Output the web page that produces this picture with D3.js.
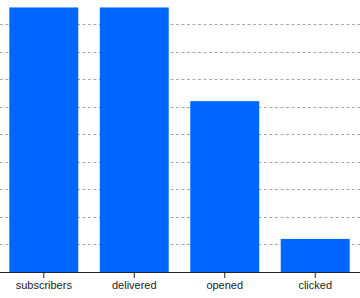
<!DOCTYPE html>
<html>
<head>
<meta charset="utf-8">
<script src="https://cdn.jsdelivr.net/npm/d3@7"></script>
<style>
  html, body { margin: 0; padding: 0; background: #fff; }
  svg { display: block; }
</style>
</head>
<body>
<svg id="chart" width="360" height="298"></svg>
<script>
const categories = ["subscribers", "delivered", "opened", "clicked"];
const values = [9600, 9600, 6200, 1200];
const gridTicks = [1000, 2000, 3000, 4000, 5000, 6000, 7000, 8000, 9000];

const width = 360, height = 298;
const baseline = 272;
const svg = d3.select("#chart");

const x = d3.scaleBand()
  .domain(categories)
  .range([0, 359])
  .paddingInner(0.238)
  .paddingOuter(0.103);

const y = d3.scaleLinear()
  .domain([0, 9870])
  .range([baseline, 0]);

// gridlines
svg.append("g")
  .selectAll("line")
  .data(gridTicks)
  .join("line")
  .attr("x1", 0)
  .attr("x2", width)
  .attr("y1", d => Math.round(y(d)) + 0.5)
  .attr("y2", d => Math.round(y(d)) + 0.5)
  .attr("stroke", "#a8a8a8")
  .attr("stroke-width", 1)
  .attr("stroke-dasharray", "3,2.5");

// bars
svg.append("g")
  .selectAll("rect")
  .data(categories.map((c, i) => ({ c, v: values[i] })))
  .join("rect")
  .attr("x", d => x(d.c))
  .attr("width", x.bandwidth())
  .attr("y", d => y(d.v))
  .attr("height", d => y(0) - y(d.v))
  .attr("fill", "#0066ff");

// x axis
const xAxis = svg.append("g")
  .attr("transform", `translate(0,${baseline})`)
  .call(d3.axisBottom(x).tickSizeOuter(0).tickSize(6).tickPadding(3));

xAxis.select(".domain")
  .attr("d", `M0,0.5H${width}`)
  .attr("stroke", "#222");
xAxis.selectAll(".tick line").attr("stroke", "#222");
xAxis.selectAll(".tick text")
  .attr("fill", "#222")
  .style("font-family", "'Liberation Sans', Arial, Helvetica, sans-serif")
  .style("font-size", "11px");
</script>
</body>
</html>
